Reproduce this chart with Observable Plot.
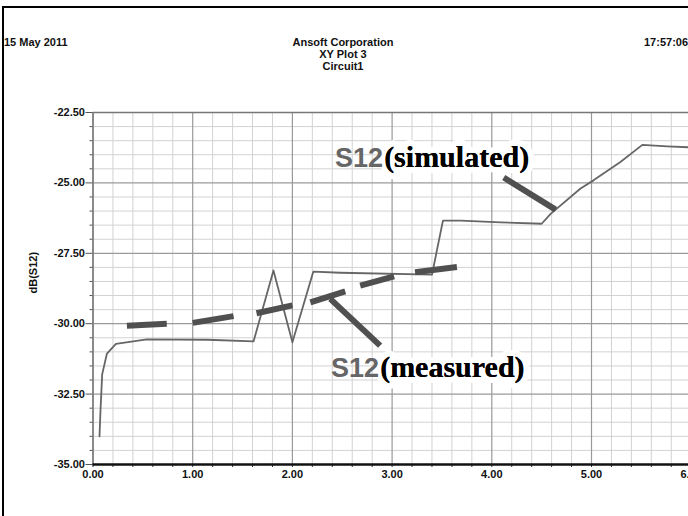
<!DOCTYPE html>
<html>
<head>
<meta charset="utf-8">
<script src="https://cdn.jsdelivr.net/npm/d3@7"></script>
<script src="https://cdn.jsdelivr.net/npm/@observablehq/plot@0.6"></script>
<style>
  html, body { margin: 0; padding: 0; background: #fff; overflow: hidden; }
  #wrap { position: relative; width: 688px; height: 516px; overflow: hidden; background: #fff; }
  #frame { position: absolute; left: 2px; top: 6px; width: 800px; height: 600px;
           border-left: 2.5px solid #000; border-top: 2.5px solid #000; box-sizing: border-box; pointer-events: none; z-index: 3; }
  .hd { position: absolute; font-family: "Liberation Sans", Arial, sans-serif; font-weight: bold; font-size: 11px; color: #111; line-height: 12px; white-space: nowrap; }
  #chart { position: absolute; left: 0; top: 100px; width: 720px; height: 416px; }
  #chart svg { max-width: none !important; width: 720px !important; height: 416px !important; }
</style>
</head>
<body>
<div id="wrap">
  <div id="frame"></div>
  <div class="hd" id="date" style="left:4px; top:36px;"></div>
  <div class="hd" id="title" style="left:243px; width:200px; top:36px; text-align:center;"></div>
  <div class="hd" id="time" style="left:644px; top:36px;"></div>
  <div id="chart"></div>
</div>
<script>
// ---- header texts ----
const headerLeft = "15 May 2011";
const headerLines = ["Ansoft Corporation", "XY Plot 3", "Circuit1"];
const headerRight = "17:57:06";
const yLabel = "dB(S12)";

// ---- axes / ticks ----
const xMajor = [0, 1, 2, 3, 4, 5, 6];
const xMinor = [0.2, 0.4, 0.6, 0.8, 1.2, 1.4, 1.6, 1.8, 2.2, 2.4, 2.6, 2.8, 3.2, 3.4, 3.6, 3.8, 4.2, 4.4, 4.6, 4.8, 5.2, 5.4, 5.6, 5.8];
const yMajor = [-35, -32.5, -30, -27.5, -25, -22.5];
const yMinor = [-34.5, -34, -33.5, -33, -32, -31.5, -31, -30.5, -29.5, -29, -28.5, -28, -27, -26.5, -26, -25.5, -24.5, -24, -23.5, -23];

// ---- S12 simulated ----
const simX = [0.065, 0.075, 0.092, 0.14, 0.23, 0.54, 1.15, 1.61, 1.81, 2.00, 2.21, 2.48, 3.40, 3.51, 3.69, 4.09, 4.50, 4.59, 4.89, 5.02, 5.29, 5.51, 5.76, 6.00];
const simY = [-34.0, -33.1, -31.8, -31.06, -30.72, -30.56, -30.57, -30.63, -28.11, -30.66, -28.15, -28.19, -28.26, -26.34, -26.34, -26.40, -26.45, -26.10, -25.20, -24.91, -24.26, -23.65, -23.70, -23.74];

// ---- S12 measured (dashed, one entry per dash end) ----
const measX   = [0.34, 0.74, 1.00, 1.41, 1.64, 2.00, 2.18, 2.53, 2.68, 3.02, 3.23, 3.65];
const measY   = [-30.07, -30.00, -29.97, -29.73, -29.63, -29.35, -29.24, -28.85, -28.65, -28.32, -28.17, -27.99];
const measDash = [1, 1, 2, 2, 3, 3, 4, 4, 5, 5, 6, 6];

// ---- annotations ----
const annName = ["S12", "S12"];
const annNote = ["(simulated)", "(measured)"];
const annX = [2.91, 2.87];
const annY = [-24.42, -31.91];
const ptrX1 = [4.12, 2.38];
const ptrY1 = [-24.81, -29.12];
const ptrX2 = [4.64, 2.88];
const ptrY2 = [-25.95, -30.78];

// header
document.getElementById("date").textContent = headerLeft;
document.getElementById("title").innerHTML = headerLines.join("<br>");
document.getElementById("time").textContent = headerRight;

const sim = simX.map((x, i) => ({x, y: simY[i]}));
const meas = measX.map((x, i) => ({x, y: measY[i], z: measDash[i]}));
const ann = annX.map((x, i) => ({x, y: annY[i], name: annName[i], note: annNote[i]}));
const ptr = ptrX1.map((x1, i) => ({x1, y1: ptrY1[i], x2: ptrX2[i], y2: ptrY2[i]}));

const fmt = d => d.toFixed(2);

const chart = Plot.plot({
  width: 720,
  height: 416,
  marginTop: 12,
  marginBottom: 52,
  marginLeft: 92.5,
  marginRight: 29.3,
  style: {fontFamily: "'Liberation Sans', Arial, sans-serif", fontSize: "11px", fontWeight: "bold", color: "#111", background: "transparent", maxWidth: "none"},
  x: {domain: [0, 6]},
  y: {domain: [-35, -22.5]},
  marks: [
    Plot.ruleX(xMinor, {stroke: "#d2d2d2", strokeWidth: 1}),
    Plot.ruleY(yMinor, {stroke: "#d2d2d2", strokeWidth: 1}),
    Plot.ruleX(xMajor, {stroke: "#9a9a9a", strokeWidth: 1.2}),
    Plot.ruleY(yMajor, {stroke: "#9a9a9a", strokeWidth: 1.2}),
    Plot.axisX(xMinor, {tickSize: 3, tickFormat: () => "", label: null, stroke: "#333"}),
    Plot.axisX(xMajor, {tickSize: 3, tickPadding: 3, tickFormat: fmt, label: null, stroke: "#333"}),
    Plot.axisY(yMinor, {tickSize: 3, tickFormat: () => "", label: null, stroke: "#555"}),
    Plot.axisY(yMajor, {tickSize: 7, tickPadding: 1, tickFormat: fmt, label: null, stroke: "#555"}),
    Plot.ruleX([0], {stroke: "#777", strokeWidth: 1.5}),
    Plot.ruleY([-22.5], {stroke: "#777", strokeWidth: 1.5}),
    Plot.ruleY([-35], {stroke: "#111", strokeWidth: 2.5}),
    Plot.text([yLabel], {frameAnchor: "left", dx: -60, dy: 5, rotate: -90, fontSize: 11, fontWeight: "bold", fill: "#111"}),
    Plot.text(ann, {x: "x", y: "y", text: "note", textAnchor: "start", lineAnchor: "bottom", dx: 1,
      fontFamily: "'Liberation Serif', 'Times New Roman', serif", fontWeight: "bold", fontSize: 30,
      fill: "#000", stroke: "#fff", strokeWidth: 12, strokeLinejoin: "round"}),
    Plot.text(ann, {x: "x", y: "y", text: "name", textAnchor: "end", lineAnchor: "bottom",
      fontFamily: "'Liberation Sans', Arial, sans-serif", fontWeight: "bold", fontSize: 27, fill: "#666"}),
    Plot.text(ann, {x: "x", y: "y", text: "note", textAnchor: "start", lineAnchor: "bottom", dx: 1,
      fontFamily: "'Liberation Serif', 'Times New Roman', serif", fontWeight: "bold", fontSize: 30, fill: "#000"}),
    Plot.line(sim, {x: "x", y: "y", stroke: "#666", strokeWidth: 1.8, curve: "linear"}),
    Plot.line(meas, {x: "x", y: "y", z: "z", stroke: "#505050", strokeWidth: 6, strokeLinecap: "butt"}),
    Plot.link(ptr, {x1: "x1", y1: "y1", x2: "x2", y2: "y2", stroke: "#505050", strokeWidth: 6, strokeLinecap: "butt"})
  ]
});
document.getElementById("chart").appendChild(chart);
</script>
</body>
</html>
